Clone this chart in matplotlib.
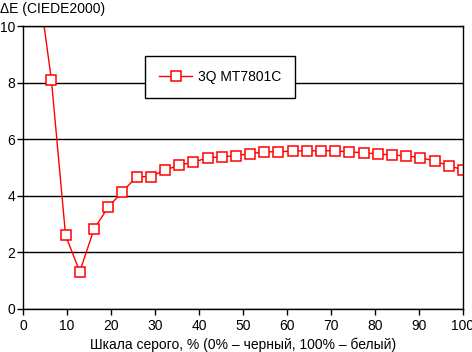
import matplotlib
matplotlib.use("Agg")
import matplotlib.pyplot as plt
import numpy as np

plt.rcParams['font.family'] = ['Liberation Sans', 'DejaVu Sans']

# шкала серого, 32 шага
x = [i * 100 / 31 for i in range(1, 32)]
de = [11.8, 8.1, 2.6, 1.32, 2.82, 3.6, 4.14, 4.67, 4.68, 4.91, 5.08, 5.19,
      5.34, 5.38, 5.42, 5.49, 5.55, 5.56, 5.58, 5.59, 5.59, 5.59, 5.55, 5.52,
      5.48, 5.44, 5.41, 5.35, 5.23, 5.06, 4.92]
label = "3Q MT7801C"

fig = plt.figure(figsize=(4.72, 3.52), dpi=100)
ax = fig.add_axes([23/472, 1-309/352, 440/472, 283/352])

ax.plot(x, de, color="red", lw=1, marker="s", ms=6.5, mfc="white",
        mec="red", mew=1.1, label=label, clip_on=True)

ax.set_xlim(0, 100)
ax.set_ylim(0, 10)
ax.set_xticks(range(0, 101, 10))
ax.set_yticks(range(0, 11, 2))
ax.yaxis.grid(True, color="black", lw=1)
ax.set_axisbelow(True)
for s in ax.spines.values():
    s.set_linewidth(1)
ax.tick_params(direction="out", length=4, width=1, labelsize=10, pad=3)
ax.tick_params(axis="y", pad=1.5)

fig.text(0.0, 1-2/352, "ΔE (CIEDE2000)", ha="left", va="top", fontsize=10)
fig.text(243/472, 1-345/352, "Шкала серого, % (0% – черный, 100% – белый)",
         ha="center", va="center", fontsize=10)

leg = ax.legend(loc="upper left", bbox_to_anchor=(122/440, 1-30/283),
                fancybox=False, framealpha=1, edgecolor="black",
                handlelength=2.4, borderpad=1.0, borderaxespad=0,
                fontsize=10, handletextpad=0.4)
leg.get_frame().set_linewidth(1)

fig.savefig("out.png", dpi=100)
